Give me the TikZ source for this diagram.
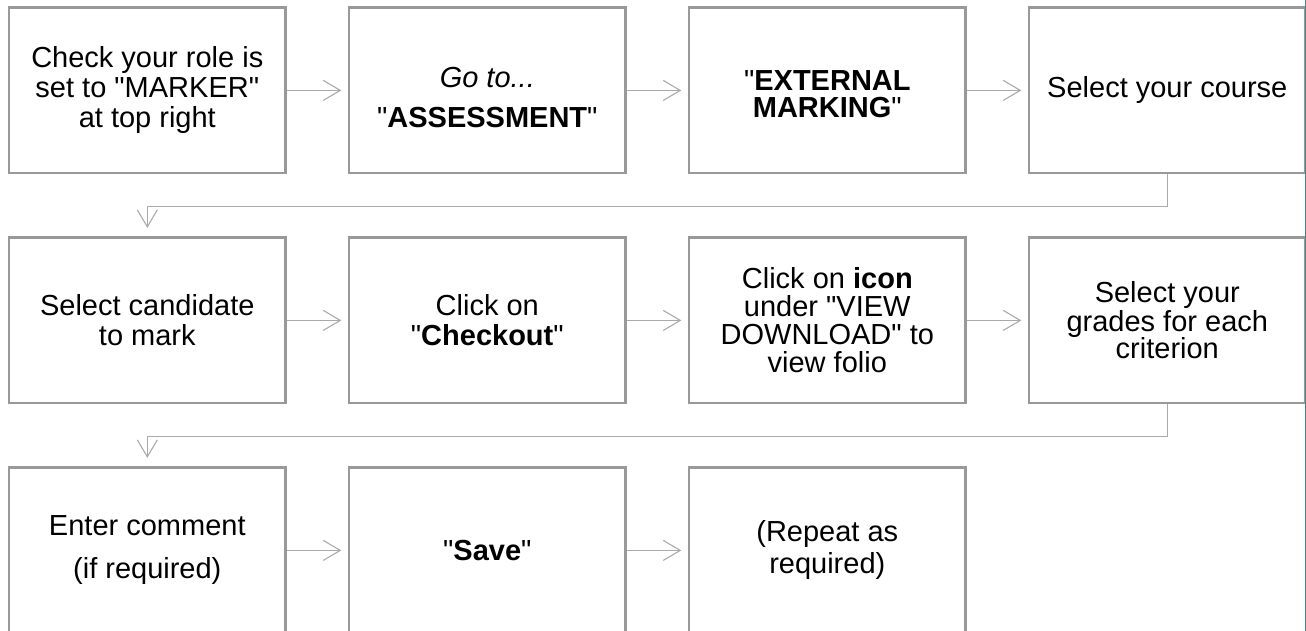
\documentclass[tikz,border=0pt]{standalone}
\usepackage{fontspec}
\setmainfont{Liberation Sans}[Ligatures=TeXReset]
\usetikzlibrary{arrows.meta}
\definecolor{boxgray}{RGB}{153,153,153}
\definecolor{linkgray}{RGB}{170,170,170}
\definecolor{edgeteal}{RGB}{60,140,140}

\begin{document}
\begin{tikzpicture}[x=1pt,y=-1pt]
    \tikzstyle{stepbox}=[draw=boxgray,line width=2.4pt,minimum width=276.5pt,minimum height=165.5pt,inner sep=0pt,align=center,font=\fontsize{29}{30}\selectfont]
    \tikzstyle{link}=[draw=linkgray,line width=1.1pt,-{Straight Barb[length=17pt,width=20pt,line width=1.1pt]},shorten >=6.5pt]
    \def\colsep{340}
    \def\rowsep{230}
    \useasboundingbox (0,0) rectangle (1306,631);
    \clip (0,0) rectangle (1306,631);

    % First row
    \node[stepbox] (s1) at (147.3,90.4) {Check your role is\\set to "MARKER"\\at top right};
    \node[stepbox] (s2) at (147.3+\colsep,90.4) {\rule{0pt}{35pt}\textit{Go to...}\\[10pt]"\textbf{ASSESSMENT}"};
    \node[stepbox] (s3) at (147.3+2*\colsep,90.4) {\rule{0pt}{27pt}"\textbf{EXTERNAL}\\[-3pt]\textbf{MARKING}"};
    \node[stepbox] (s4) at (147.3+3*\colsep,90.4) {Select your course};

    % Second row
    \node[stepbox] (s5) at (147.3,90.4+\rowsep) {Select candidate\\to mark};
    \node[stepbox] (s6) at (147.3+\colsep,90.4+\rowsep) {Click on\\"\textbf{Checkout}"};
    \node[stepbox] (s7) at (147.3+2*\colsep,90.4+\rowsep) {Click on \textbf{icon}\\[-2pt]under "VIEW\\[-2pt]DOWNLOAD" to\\[-2pt]view folio};
    \node[stepbox] (s8) at (147.3+3*\colsep,90.4+\rowsep) {Select your\\[-1pt]grades for each\\[-3pt]criterion};

    % Third row
    \node[stepbox] (s9) at (147.3,90.4+2*\rowsep) {Enter comment\\[13pt](if required)};
    \node[stepbox] (s10) at (147.3+\colsep,90.4+2*\rowsep) {"\textbf{Save}"};
    \node[stepbox] (s11) at (147.3+2*\colsep,90.4+2*\rowsep) {(Repeat as\\[2pt]required)};

    % Arrows along each row
    \foreach \source/\dest in {s1/s2,s2/s3,s3/s4,s5/s6,s6/s7,s7/s8,s9/s10,s10/s11}
        \draw[link] (\source) -- (\dest);

    % Wrap round to the start of the next row
    \draw[link,shorten >=8.5pt] (s4.south) -- ++(0,32) -| (s5.north);
    \draw[link,shorten >=8.5pt] (s8.south) -- ++(0,32) -| (s9.north);

    % right hand edge
    \draw[edgeteal,line width=1.2pt] (1305.4,0) -- (1305.4,631);
\end{tikzpicture}
\end{document}
